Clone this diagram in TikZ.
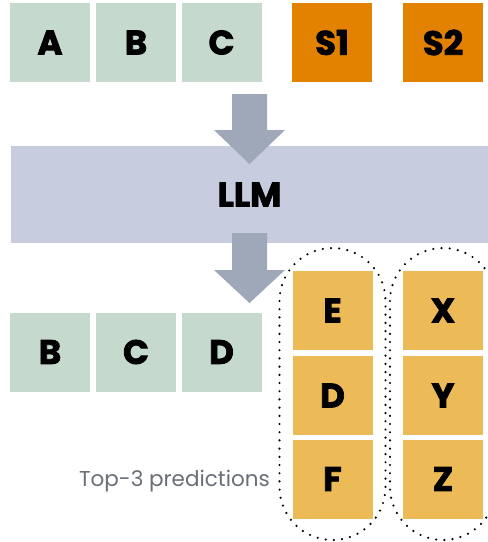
\documentclass[tikz,border=0pt]{standalone}
\usepackage{fontspec}
\setmainfont{Poppins}
\newfontfamily\heavyfont[FakeBold=2.2]{Poppins Bold}
\usetikzlibrary{positioning}
\definecolor{tokgreen}{HTML}{C5D9CD}
\definecolor{special}{HTML}{E38100}
\definecolor{predyellow}{HTML}{ECBB57}
\definecolor{llmblue}{HTML}{C7CCDF}
\definecolor{arrowgray}{HTML}{9EA8B9}
\definecolor{labelgray}{HTML}{6B6F78}
\tikzset{
  x=1pt, y=-1pt,
  tokfont/.style={font=\fontsize{34}{34}\selectfont\heavyfont},
  tok/.style={minimum width=80pt, minimum height=79pt, inner sep=0pt, tokfont},
  ctx/.style={tok, fill=tokgreen},
  spec/.style={tok, fill=special},
  pred/.style={tok, fill=predyellow},
  group/.style={draw=black, line width=2.4pt, line cap=round,
    dash pattern=on 0pt off 8.2pt, rounded corners=53pt},
  blockarrow/.style={fill=arrowgray}
}
\begin{document}
\begin{tikzpicture}
\clip (0,0) rectangle (488,542);
\fill[white] (0,0) rectangle (488,542);

% input tokens and special tokens
\node[ctx]  (a)  at (50,42.5)  {A};
\node[ctx]  (b)  at (136,42.5) {B};
\node[ctx]  (c)  at (221.5,42.5) {C};
\node[spec] (s1) at (332,42.5) {S1};
\node[spec] (s2) at (443,42.5) {S2};

% model block
\node[fill=llmblue, minimum width=477pt, minimum height=97pt, inner sep=0pt,
  tokfont] (llm) at (249.5,194.5) {LLM};

% block arrows into and out of the model
\fill[blockarrow] (232,94) -- (267,94) -- (267,130) -- (285,130) -- (249.5,164)
  -- (214,130) -- (232,130) -- cycle;
\fill[blockarrow] (232,233) -- (267,233) -- (267,270) -- (285,270) -- (249.5,303)
  -- (214,270) -- (232,270) -- cycle;

% shifted output tokens
\node[ctx] (ob) at (50,352)  {B};
\node[ctx] (oc) at (136,352) {C};
\node[ctx] (od) at (221.5,352) {D};

% top-3 candidates for each special token
\node[pred] (p1) at (332.5,310.5) {E};
\node[pred] (p2) at (332.5,395.5) {D};
\node[pred] (p3) at (332.5,479)   {F};
\node[pred] (q1) at (443,310.5) {X};
\node[pred] (q2) at (443,395.5) {Y};
\node[pred] (q3) at (443,479)   {Z};

% dotted groupings
\draw[group] (279.5,248) rectangle (385.5,540);
\draw[group] (390,248) rectangle (496,540);

\node[anchor=east, inner sep=0pt, text=labelgray,
  font=\fontsize{21.5}{21.5}\selectfont] (lbl) at (270,481) {Top-3 predictions};
\end{tikzpicture}
\end{document}
